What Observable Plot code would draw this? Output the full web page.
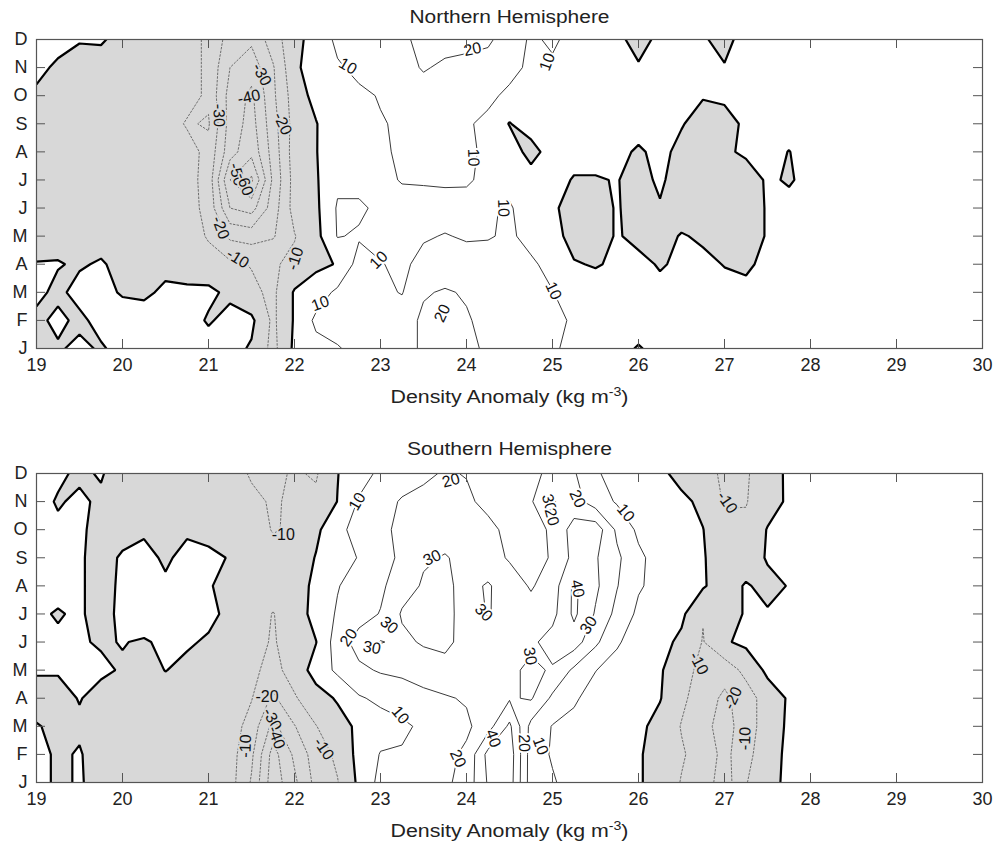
<!DOCTYPE html>
<html><head><meta charset="utf-8">
<script src="https://cdn.jsdelivr.net/npm/d3@7"></script>
<script src="https://cdn.jsdelivr.net/npm/@observablehq/plot@0.6"></script>
<style>
html,body{margin:0;padding:0;background:#fff;}
#chart{width:1000px;height:851px;overflow:hidden;}
#chart svg{display:block;}
</style></head>
<body><div id="chart"></div>
<script>
// ---- axes ----
const densities = [19,19.25,19.5,19.75,20,20.25,20.5,20.75,21,21.25,21.5,21.75,22,22.25,22.5,22.75,23,23.25,23.5,23.75,24,24.25,24.5,24.75,25,25.25,25.5,25.75,26,26.25,26.5,26.75,27,27.25,27.5,27.75,28,28.25,28.5,28.75,29,29.25,29.5,29.75,30];
const months = [1,2,3,4,5,6,7,8,9,10,11,12];
const monthLabels = ["J","F","M","A","M","J","J","A","S","O","N","D"];
const xTicks = [19,20,21,22,23,24,25,26,27,28,29,30];
const negLevels = [-60,-50,-40,-30,-20,-10];
const posLevels = [10,20,30,40,50];

// ---- Northern Hemisphere: one row per month (J..D), one value per density ----
const nh01 = [-3,-1,2,-1,3,4,5,5,4,3,-1,-13,2,7,9.5,12,13,15,22,24,23,18,14,12,11,8,5,2,-0.5,2,3,3,3,3,3,3,3,3,3,3,3,3,3,3,3];
const nh02 = [-2,2,-2,3,5,5,5,4,-1,3,2,-12,1,12,13,14,13,15,22,20.5,21,17,15,13,12,9,6,5,3,3,3,3,3,3,3,3,3,3,3,3,3,3,3,3,3];
const nh03 = [2,-2,3,3,-1,-2,2,2,2,-2,-8,-12,1,5,12,14,12,9.5,19,21,19,16,15,13,10.2,7,6,5,4,3,3,4,4,3,3,3,3,3,3,3,3,3,3,3,3];
const nh04 = [0.3,0.5,-1,1,-3,-3,-3,-5,-6,-8,-10.5,-11,-8,-2,0.5,14,10.5,8,13,14,14,13,13,11,8,1,-1,2,3,-1,2,3,-0.5,-2,3,3,3,3,3,3,3,3,3,3,3];
const nh05 = [-3,-3,-4,-4,-5,-5,-5,-5,-11,-22,-24,-21,-10.5,-3,10.5,9,7,6,9,10.5,9,9.5,11,8,5,-5,-5,1,-3,-5,1,-2,-5,-3,0.5,3,3,3,3,3,3,3,3,3,3];
const nh06 = [-3,-4,-4,-5,-5,-5,-5,-6,-13,-40,-44,-25,-6,-2,11,11.5,8,7,6,6,7,9,11,5,2,-5,-5,1,-5,-1,-7,-7,-7,-6,1,3,3,3,3,3,3,3,3,3,3];
const nh07 = [-3,-4,-4,-5,-5,-5,-5,-6,-14,-50,-62,-28,-6,-1,8,7,8,10.5,11,11.5,11,8,7,5,4,-0.8,-0.8,0.5,-4,2,-6,-8,-8,-6,1.5,-1,3,3,3,3,3,3,3,3,3];
const nh08 = [-3,-4,-4,-5,-5,-5,-5,-6,-13,-36,-47,-26,-5,-0.5,8,9,9.5,10.5,12,13,12,8,6,-4,5,4,4,2,-1,2,-2,-6,-2,2,2.5,-0.2,3,3,3,3,3,3,3,3,3];
const nh09 = [-3,-4,-4,-5,-5,-5,-5,-11,-9,-34,-44,-24,-6,-0.5,7,8,9.5,11,13,14,11,8,-0.5,5,5,4,3,3,3,3,0.5,-3,-2,1,3,3,3,3,3,3,3,3,3,3,3];
const nh10 = [-1,-3,-4,-4,-5,-5,-5,-6,-12,-34,-42,-22,-5,3,7,8.5,10.5,13,15,15,14,12,8,6,5,5,4,4,4,3,3,0.5,1,3,3,3,3,3,3,3,3,3,3,3,3];
const nh11 = [1.5,-1,-3,-4,-4,-5,-5,-6,-12,-30,-36,-21,-2,5,9,12,14,16,21,18,17,15,13,8,9,7,5,3,0.8,3,4,3,0.3,3,3,3,3,3,3,3,3,3,3,3,3];
const nh12 = [3,2,0.5,1,-3,-4,-5,-6,-12,-24,-28,-15,-3,4,12,14,16,18,23,24,23,22,14,9,11,8,5,2,-3,2,3,0.5,-1.5,2,3,3,3,3,3,3,3,3,3,3,3];

// ---- Southern Hemisphere ----
const sh01 = [2,-1,0.5,-2,-4,-5,-5,-5,-5,-6,-21,-46,-32,-17,-10.5,2,13,15,16,18,24,41,45,15,11,6,5,4,1,-4,-10.5,-15,-25,-10.5,-3,2,3,3,3,3,3,3,3,3,3];
const sh02 = [2,-1,0.5,-3,-4,-5,-5,-5,-5,-6,-18,-44,-28,-15,-8,3,10.5,11,13,17,22,43,46,15,9,7,6,4,1,-4,-9,-14,-23,-13,-4,2,3,3,3,3,3,3,3,3,3];
const sh03 = [0.3,-1,-1,-3,-4,-5,-5,-5,-5,-5,-14,-33,-20.5,-10.3,-4,2,6,8,12,15,18,26,42,17,9.5,8,6,4,2,-3,-10.5,-17,-24,-15,-5,1.5,3,3,3,3,3,3,3,3,3];
const sh04 = [-2,-2,0.3,-2,-4,-4,-4,-4,-4,-4,-9.5,-22,-11,-4,1,9,12,15,17,19,21,25,29,31,18,11,7,5,3,0.5,-8,-15,-22,-15,-5,1,3,3,3,3,3,3,3,3,3];
const sh05 = [0.5,0.5,1,1,-0.5,-3,0.2,-2,-4,-5,-8,-13,-6,4,12,18,21,22,25,27,25,26,28,32,29,18,10.2,7,4,1,-6,-13,-16,-7,2,3,3,3,3,3,3,3,3,3,3];
const sh06 = [1,1,0.5,-0.5,0.2,-0.5,1,1,-1,-3,-7,-10.8,-6,-0.3,15,24,30.5,28,31,32,27,26,25,28,34,35,22,11,6,3,-2,-10.5,-1,2,3,3,3,3,3,3,3,3,3,3,3];
const sh07 = [1,-0.5,1,-3,2,3,3,2,2,-2,-6,-10.3,-6,4,11,16,20.5,31,32,33,26,30.5,27,24,27,42,29,17,8,5,2,-9.5,-5,1,1,1.5,3,3,3,3,3,3,3,3,3];
const sh08 = [2,2,1,-3,1.5,3,1,2,0.5,-2,-5,-7,-6,3,9.5,14,18,26,31,32,27,31,25,19,25,42,32,20.5,11,7,4,1,-5,1,-3,0.5,3,3,3,3,3,3,3,3,3];
const sh09 = [2,2,1,-3,1,2,-1,2,2,-0.5,-5,-7,-6,0.5,6,10.5,16,22,29,30.5,28,24,19,16,21,33,31,22,12,6,3,1,-7,-6,1,1.5,3,3,3,3,3,3,3,3,3];
const sh10 = [2,1,1,-2,-3,-1,-3,-1,-3,-5,-6,-10.5,-9,-2,7,14,18,22,25,27,26,23,17,15,22,34,36,18,8,5,3,0.2,-7,-8,0.5,3,3,3,3,3,3,3,3,3,3];
const sh11 = [2,-0.5,1,-1,-4,-5,-5,-5,-5,-6,-8,-11,-8.5,-8,0.2,11,16,21,23,24,22,17,15,19,31,24,15,9,6,4,2,-2,-11,-10.5,-4,1.5,3,3,3,3,3,3,3,3,3];
const sh12 = [2,1,-1,0.5,-3,-4,-4,-5,-5,-6,-11,-12,-9,-11,-0.3,6,12,15,18,21,19.5,17,16,18,22,21,11,7,5,2,-3,-6,-12,-11,-5,2,3,3,3,3,3,3,3,3,3];

// ---- inline contour labels (annotations) ----
const nhLabels = [
  {x: 21.62, y: 10.75, t: "-30", r: 62},
  {x: 21.47, y: 9.95, t: "-40", r: -12},
  {x: 21.12, y: 9.3, t: "-30", r: 88},
  {x: 21.86, y: 9.0, t: "-20", r: 65},
  {x: 21.33, y: 7.2, t: "-50", r: 75},
  {x: 21.42, y: 6.85, t: "-60", r: 70},
  {x: 21.14, y: 5.3, t: "-20", r: 70},
  {x: 21.34, y: 4.2, t: "-10", r: 32},
  {x: 22.01, y: 4.2, t: "-10", r: -72},
  {x: 22.62, y: 11.05, t: "10", r: 30},
  {x: 24.07, y: 11.65, t: "20", r: -12},
  {x: 24.94, y: 11.2, t: "10", r: -70},
  {x: 24.08, y: 7.8, t: "10", r: 88},
  {x: 24.43, y: 6.0, t: "10", r: 88},
  {x: 22.98, y: 4.15, t: "10", r: -45},
  {x: 22.3, y: 2.6, t: "10", r: -20},
  {x: 23.72, y: 2.25, t: "20", r: -65},
  {x: 25.01, y: 3.05, t: "10", r: 65}
];
const shLabels = [
  {x: 21.87, y: 9.8, t: "-10", r: 0},
  {x: 21.68, y: 4.05, t: "-20", r: 0},
  {x: 21.74, y: 3.25, t: "-30", r: 62},
  {x: 21.79, y: 2.6, t: "-40", r: 70},
  {x: 21.43, y: 2.3, t: "-10", r: -88},
  {x: 22.34, y: 2.2, t: "-10", r: 55},
  {x: 27.03, y: 10.97, t: "-10", r: 55},
  {x: 26.7, y: 5.24, t: "-10", r: 62},
  {x: 27.1, y: 4.0, t: "-20", r: -65},
  {x: 27.24, y: 2.57, t: "-10", r: -88},
  {x: 22.73, y: 11.0, t: "10", r: -60},
  {x: 23.82, y: 11.75, t: "20", r: -15},
  {x: 24.96, y: 10.95, t: "30", r: 75},
  {x: 24.99, y: 10.45, t: "20", r: 75},
  {x: 25.29, y: 11.1, t: "20", r: 65},
  {x: 25.85, y: 10.6, t: "10", r: 50},
  {x: 23.6, y: 9.0, t: "30", r: -25},
  {x: 24.2, y: 7.05, t: "30", r: 45},
  {x: 25.29, y: 7.9, t: "40", r: 80},
  {x: 25.42, y: 6.6, t: "30", r: -55},
  {x: 24.74, y: 5.5, t: "30", r: 80},
  {x: 23.1, y: 6.6, t: "30", r: 40},
  {x: 22.9, y: 5.8, t: "30", r: 10},
  {x: 22.63, y: 6.16, t: "20", r: -55},
  {x: 23.23, y: 3.4, t: "10", r: 50},
  {x: 23.9, y: 1.85, t: "20", r: 65},
  {x: 24.31, y: 2.57, t: "40", r: 70},
  {x: 24.67, y: 2.4, t: "20", r: 88},
  {x: 24.86, y: 2.3, t: "10", r: 70}
];

const GRAY = "#d8d8d8";
const FONT = "'Liberation Sans', Arial, Helvetica, sans-serif";
const xLabel = "Density Anomaly (kg m-3)";

function panel(rows, labels, title, opts) {
  const grid = rows.flat();
  const step = densities[1] - densities[0];
  const g = {
    x1: densities[0] - step / 2, x2: densities[densities.length - 1] + step / 2,
    y1: months[0] - 0.5, y2: months[months.length - 1] + 0.5,
    width: densities.length, height: months.length, clip: true
  };
  const frameH = opts.height - opts.marginTop - opts.marginBottom;
  const frameW = 1000 - 36 - 18;
  const lab = (neg) => ({x: "x", y: "y", text: "t", rotate: "r", fontSize: 16,
    fill: "#111", stroke: neg ? GRAY : "white", strokeWidth: 4, paintOrder: "stroke"});
  return Plot.plot({
    width: 1000, height: opts.height,
    marginLeft: 36, marginRight: 18, marginTop: opts.marginTop, marginBottom: opts.marginBottom,
    x: {domain: [19, 30]}, y: {domain: [1, 12]},
    style: {fontFamily: FONT, fontSize: "18px", color: "#222", background: "white", overflow: "visible"},
    marks: [
      Plot.frame({fill: GRAY, stroke: "none"}),
      Plot.contour(grid, {...g, thresholds: [0], fill: "white", stroke: "none"}),
      Plot.contour(grid, {...g, thresholds: negLevels, fill: "none", stroke: "#6e6e6e", strokeWidth: 1, strokeDasharray: "2.5,1.2"}),
      Plot.contour(grid, {...g, thresholds: posLevels, fill: "none", stroke: "#3a3a3a", strokeWidth: 1}),
      Plot.contour(grid, {...g, thresholds: [0], fill: "none", stroke: "#000", strokeWidth: 2.2}),
      Plot.text(labels.filter(d => d.t.startsWith("-")), lab(true)),
      Plot.text(labels.filter(d => !d.t.startsWith("-")), lab(false)),
      Plot.tickX(xTicks, {x: d => d, insetTop: frameH - 9, stroke: "#555"}),
      Plot.tickX(xTicks, {x: d => d, insetBottom: frameH - 9, stroke: "#555"}),
      Plot.tickY(months, {y: d => d, insetRight: frameW - 9, stroke: "#555"}),
      Plot.tickY(months, {y: d => d, insetLeft: frameW - 9, stroke: "#555"}),
      Plot.frame({stroke: "#555", strokeWidth: 1.2}),
      Plot.axisX({ticks: xTicks, tickSize: 0, tickPadding: 10, label: null, fontSize: 18}),
      Plot.axisY({ticks: months, tickFormat: m => monthLabels[m - 1], tickSize: 0, tickPadding: 9, label: null, fontSize: 18}),
      Plot.text([title], {frameAnchor: "top", dy: opts.titleDy, fontSize: 18}),
      Plot.text([xLabel], {frameAnchor: "bottom", dy: 54, fontSize: 18})
    ]
  });
}

function finish(svg, title, titleWidth) {
  const ns = "http://www.w3.org/2000/svg";
  for (const t of svg.querySelectorAll("text")) {
    if (t.textContent === xLabel) {
      while (t.firstChild) t.removeChild(t.firstChild);
      t.appendChild(document.createTextNode("Density Anomaly (kg m"));
      const sup = document.createElementNS(ns, "tspan");
      sup.setAttribute("dy", "-7"); sup.setAttribute("font-size", "12");
      sup.textContent = "-3";
      t.appendChild(sup);
      const cl = document.createElementNS(ns, "tspan");
      cl.setAttribute("dy", "7");
      cl.textContent = ")";
      t.appendChild(cl);
      t.setAttribute("textLength", "238");
      t.setAttribute("lengthAdjust", "spacingAndGlyphs");
    } else if (t.textContent === title) {
      t.setAttribute("textLength", String(titleWidth));
      t.setAttribute("lengthAdjust", "spacingAndGlyphs");
    }
  }
  return svg;
}

const root = document.getElementById("chart");
const nhTitle = "Northern Hemisphere", shTitle = "Southern Hemisphere";
root.appendChild(finish(panel([nh01,nh02,nh03,nh04,nh05,nh06,nh07,nh08,nh09,nh10,nh11,nh12], nhLabels, nhTitle,
  {height: 425, marginTop: 39, marginBottom: 77, titleDy: -29}), nhTitle, 200));
root.appendChild(finish(panel([sh01,sh02,sh03,sh04,sh05,sh06,sh07,sh08,sh09,sh10,sh11,sh12], shLabels, shTitle,
  {height: 426, marginTop: 48, marginBottom: 69, titleDy: -31}), shTitle, 205));
</script>
</body></html>
